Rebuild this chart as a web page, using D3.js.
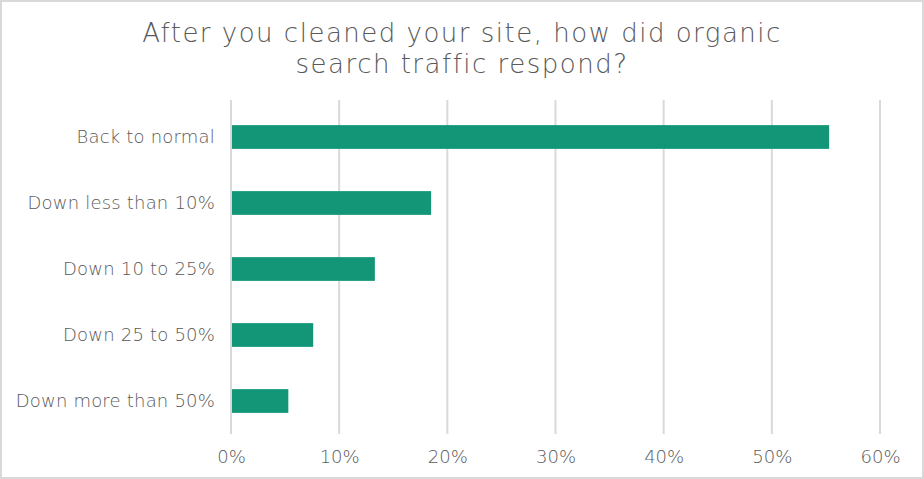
<!DOCTYPE html>
<html>
<head>
<meta charset="utf-8">
<script src="https://cdn.jsdelivr.net/npm/d3@7"></script>
<style>
  html, body { margin: 0; padding: 0; background: #fff; }
  svg { display: block; }
  text { font-family: "DejaVu Sans", sans-serif; font-weight: 200; fill: #595959; }
</style>
</head>
<body>
<svg id="chart" width="924" height="479"></svg>
<script>
// Chart data
const categories = ["Back to normal", "Down less than 10%", "Down 10 to 25%", "Down 25 to 50%", "Down more than 50%"];
const shares = [55.3, 18.5, 13.3, 7.6, 5.3];
const xTicks = [0, 10, 20, 30, 40, 50, 60];
const titleLines = ["After you cleaned your site, how did organic", "search traffic respond?"];

const W = 924, H = 479;
const margin = { top: 104, right: 44, bottom: 45, left: 231 };

const svg = d3.select("#chart");

// outer frame
svg.append("rect")
    .attr("x", 1).attr("y", 1)
    .attr("width", W - 2).attr("height", H - 2)
    .attr("fill", "#fff")
    .attr("stroke", "#d9d9d9")
    .attr("stroke-width", 2);

const x = d3.scaleLinear().domain([0, 60]).range([margin.left, W - margin.right]);
const y = d3.scaleBand().domain(categories).range([margin.top, H - margin.bottom]).paddingInner(0.64).paddingOuter(0.32);

// gridlines
svg.append("g")
    .selectAll("line")
    .data(xTicks)
    .join("line")
    .attr("x1", d => x(d)).attr("x2", d => x(d))
    .attr("y1", margin.top - 4).attr("y2", H - margin.bottom)
    .attr("stroke", "#d9d9d9")
    .attr("stroke-width", 2);

// bars
svg.append("g")
    .selectAll("rect")
    .data(categories)
    .join("rect")
    .attr("x", x(0) + 1)
    .attr("y", d => y(d))
    .attr("width", (d, i) => x(shares[i]) - x(0) - 1)
    .attr("height", y.bandwidth())
    .attr("fill", "#139678");

// x axis labels
const xAxis = svg.append("g")
    .attr("transform", `translate(0,${H - margin.bottom})`)
    .call(d3.axisBottom(x).tickValues(xTicks).tickFormat(d => d + "%").tickSize(0).tickPadding(16));
xAxis.select(".domain").remove();
xAxis.selectAll("text")
    .style("font-size", "18px");

// y axis labels
const yAxis = svg.append("g")
    .attr("transform", `translate(${margin.left},0)`)
    .call(d3.axisLeft(y).tickSize(0).tickPadding(16));
yAxis.select(".domain").remove();
yAxis.selectAll("text")
    .style("font-size", "18px")
    .attr("letter-spacing", "0.2px");
svg.selectAll(".tick text").attr("fill", null).attr("font-family", null).attr("font-size", null);

// title
svg.append("text")
    .attr("text-anchor", "middle")
    .style("font-size", "26px")
    .attr("letter-spacing", "1.5px")
    .selectAll("tspan")
    .data(titleLines)
    .join("tspan")
    .attr("x", W / 2)
    .attr("y", (d, i) => 42 + i * 31)
    .text(d => d);
</script>
</body>
</html>
